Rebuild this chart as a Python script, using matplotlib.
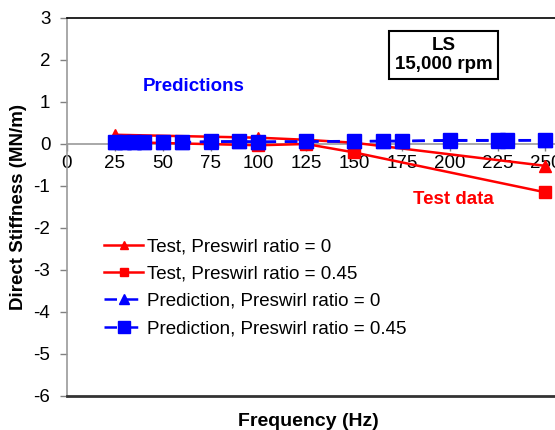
import matplotlib
matplotlib.use("Agg")
import matplotlib.pyplot as plt

plt.rcParams["font.family"] = ["Liberation Sans", "DejaVu Sans"]
plt.rcParams["axes.unicode_minus"] = False

# test data (Hz, MN/m)
test_freq = [25, 100, 125, 150, 250]
test_k_ps0 = [0.22, 0.15, 0.10, 0.03, -0.52]
test_k_ps045 = [0.05, -0.03, 0.0, -0.20, -1.15]

# predictions
pred_freq = [25, 30, 35, 40, 50, 60, 75, 90, 100, 125, 150, 165, 175, 200, 225, 230, 250]
pred_k_ps0 = [0.05, 0.05, 0.05, 0.05, 0.04, 0.04, 0.05, 0.06, 0.05, 0.06, 0.06, 0.07, 0.07, 0.08, 0.08, 0.08, 0.09]
pred_k_ps045 = [0.05, 0.05, 0.05, 0.05, 0.04, 0.04, 0.06, 0.06, 0.05, 0.06, 0.07, 0.07, 0.07, 0.09, 0.09, 0.09, 0.09]

xticks = [0, 25, 50, 75, 100, 125, 150, 175, 200, 225, 250]
yticks = [3, 2, 1, 0, -1, -2, -3, -4, -5, -6]

FS = 13.5

fig = plt.figure(figsize=(5.55, 4.3), dpi=100)
ax = fig.add_axes([67 / 555, 1 - 396 / 430, 574 / 555, 378 / 430])

ax.plot(test_freq, test_k_ps0, color="red", lw=1.8, marker="^", ms=8,
        label="Test, Preswirl ratio = 0", zorder=3)
ax.plot(test_freq, test_k_ps045, color="red", lw=1.8, marker="s", ms=8,
        label="Test, Preswirl ratio = 0.45", zorder=3)
ax.plot(pred_freq, pred_k_ps0, color="blue", lw=1.8, ls=(0, (5, 3.5)), marker="^", ms=9.5,
        label="Prediction, Preswirl ratio = 0", zorder=4)
ax.plot(pred_freq, pred_k_ps045, color="blue", lw=1.8, ls=(0, (5, 3.5)), marker="s", ms=10,
        label="Prediction, Preswirl ratio = 0.45", zorder=4)

ax.set_xlim(0, 300)
ax.set_ylim(-6, 3)
ax.set_xticks(xticks)
ax.set_yticks(yticks)
ax.tick_params(labelsize=FS, colors="#808080", labelcolor="black", length=5, width=1)
ax.tick_params(axis="y", pad=7)
ax.tick_params(axis="x", pad=3)

# x axis crosses at zero
ax.spines["bottom"].set_position(("data", 0))
ax.spines["bottom"].set_color("#9a9a9a")
ax.spines["bottom"].set_linewidth(1.2)
ax.spines["left"].set_color("#9a9a9a")
ax.spines["left"].set_linewidth(1.2)
ax.spines["top"].set_color("black")
ax.spines["top"].set_linewidth(1.2)
ax.spines["right"].set_visible(False)
ax.axhline(-6, color="#333333", lw=2, clip_on=False, zorder=5)

ax.set_ylabel("Direct Stiffness (MN/m)", fontsize=FS, fontweight="bold", labelpad=5)
fig.text(308 / 555, 1 - 421 / 430, "Frequency (Hz)", fontsize=14, fontweight="bold",
         ha="center", va="center")

ax.text(66, 1.38, "Predictions", color="blue", fontsize=FS, fontweight="bold",
        ha="center", va="center")
ax.text(202, -1.33, "Test data", color="red", fontsize=FS, fontweight="bold",
        ha="center", va="center")
ax.text(197, 2.12, "LS\n15,000 rpm", fontsize=FS, fontweight="bold", ha="center",
        va="center", linespacing=1.2,
        bbox=dict(boxstyle="square,pad=0.3", fc="white", ec="black", lw=1.5))

ax.legend(loc="upper left", bbox_to_anchor=(104 / 555, 1 - 238 / 430),
          bbox_transform=fig.transFigure, frameon=False, fontsize=FS,
          handlelength=2.1, handletextpad=0.2, labelspacing=0.55, borderpad=0,
          borderaxespad=0, markerscale=0.8)

fig.savefig("out.png", dpi=100)
